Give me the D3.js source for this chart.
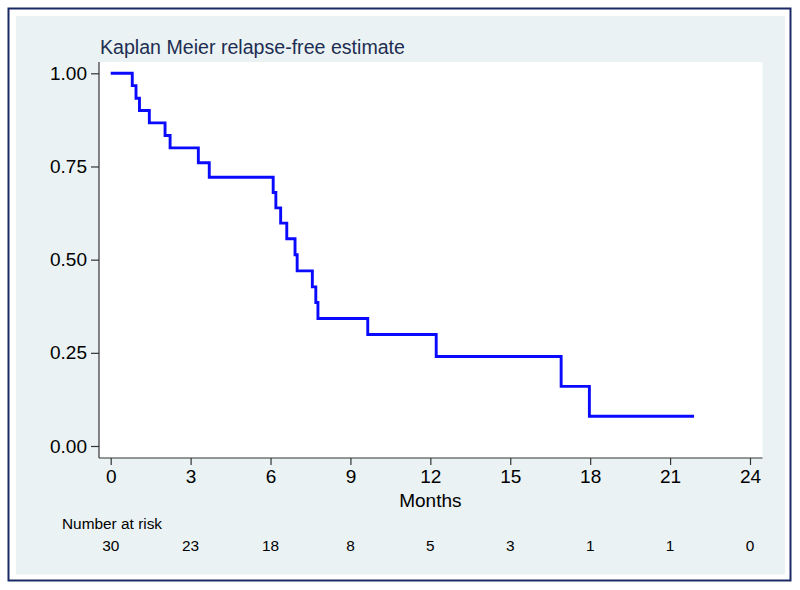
<!DOCTYPE html>
<html>
<head>
<meta charset="utf-8">
<script src="https://cdn.jsdelivr.net/npm/d3@7"></script>
<style>
  body { margin: 0; background: #ffffff; }
  svg { display: block; font-family: "Liberation Sans", Arial, sans-serif; }
</style>
</head>
<body>
<div id="chart"></div>
<script>
// Kaplan-Meier steps
const months = [0, 0.81, 0.95, 1.08, 1.45, 2.04, 2.23, 3.29, 3.70, 6.10, 6.20, 6.38, 6.61, 6.92, 7.00, 7.57, 7.70, 7.78, 9.65, 12.22, 16.91, 17.97, 21.9];
const survival = [1, 0.967, 0.933, 0.900, 0.867, 0.833, 0.800, 0.760, 0.721, 0.680, 0.639, 0.598, 0.556, 0.513, 0.470, 0.427, 0.385, 0.342, 0.299, 0.240, 0.160, 0.080, 0.080];

const xTicks = [0, 3, 6, 9, 12, 15, 18, 21, 24];
const yTicks = [0, 0.25, 0.5, 0.75, 1];
const atRisk = [30, 23, 18, 8, 5, 3, 1, 1, 0];

const width = 800;
const height = 590;

const svg = d3.select("#chart")
  .append("svg")
  .attr("width", width)
  .attr("height", height);

// outer frame and panel
svg.append("rect")
  .attr("x", 8.5).attr("y", 8.5)
  .attr("width", 782).attr("height", 572)
  .attr("fill", "#ffffff")
  .attr("stroke", "#1b2a66")
  .attr("stroke-width", 2);

svg.append("rect")
  .attr("x", 16).attr("y", 16)
  .attr("width", 769).attr("height", 558.5)
  .attr("fill", "#eaf2f3");

// plot region
const plot = { left: 99, right: 762.5, top: 62, bottom: 458 };

svg.append("rect")
  .attr("x", plot.left).attr("y", plot.top)
  .attr("width", plot.right - plot.left)
  .attr("height", plot.bottom - plot.top)
  .attr("fill", "#ffffff");

const xScale = d3.scaleLinear().domain([0, 24]).range([110.7, 750]);
const yScale = d3.scaleLinear().domain([0, 1]).range([446, 73.3]);

// x axis
const xAxis = d3.axisBottom(xScale)
  .tickValues(xTicks)
  .tickFormat(d => d)
  .tickSize(7)
  .tickPadding(5)
  .tickSizeOuter(0);

const gx = svg.append("g")
  .attr("transform", `translate(0,${plot.bottom})`)
  .call(xAxis);
gx.select(".domain").remove();
gx.selectAll(".tick line").attr("stroke", "#333333").attr("stroke-width", 1.2);
gx.selectAll(".tick text")
  .attr("fill", "#000000")
  .style("font-size", "19px");

// y axis
const yAxis = d3.axisLeft(yScale)
  .tickValues(yTicks)
  .tickFormat(d3.format(".2f"))
  .tickSize(8)
  .tickPadding(4)
  .tickSizeOuter(0);

const gy = svg.append("g")
  .attr("transform", `translate(${plot.left},0)`)
  .call(yAxis);
gy.select(".domain").remove();
gy.selectAll(".tick line").attr("stroke", "#333333").attr("stroke-width", 1.2);
gy.selectAll(".tick text")
  .attr("fill", "#000000")
  .style("font-size", "19px");

// axis lines
svg.append("line")
  .attr("x1", plot.left).attr("x2", plot.left)
  .attr("y1", plot.top).attr("y2", plot.bottom)
  .attr("stroke", "#333333").attr("stroke-width", 1.2);

svg.append("line")
  .attr("x1", plot.left).attr("x2", plot.right)
  .attr("y1", plot.bottom).attr("y2", plot.bottom)
  .attr("stroke", "#333333").attr("stroke-width", 1.2);

// survival curve
const line = d3.line()
  .x((d, i) => xScale(months[i]))
  .y(d => yScale(d))
  .curve(d3.curveStepAfter);

svg.append("path")
  .datum(survival)
  .attr("d", line)
  .attr("fill", "none")
  .attr("stroke", "#0a0aff")
  .attr("stroke-width", 2.9);

// title
svg.append("text")
  .attr("x", 100)
  .attr("y", 54)
  .attr("fill", "#1e2d52")
  .style("font-size", "19.6px")
  .text("Kaplan Meier relapse-free estimate");

// x axis title
svg.append("text")
  .attr("x", xScale(12))
  .attr("y", 507)
  .attr("text-anchor", "middle")
  .attr("fill", "#000000")
  .style("font-size", "19px")
  .text("Months");

// number at risk
svg.append("text")
  .attr("x", 62)
  .attr("y", 529)
  .attr("fill", "#000000")
  .style("font-size", "15.4px")
  .text("Number at risk");

svg.selectAll(".risk")
  .data(atRisk)
  .enter()
  .append("text")
  .attr("class", "risk")
  .attr("x", (d, i) => xScale(xTicks[i]))
  .attr("y", 551)
  .attr("text-anchor", "middle")
  .attr("fill", "#000000")
  .style("font-size", "15.4px")
  .text(d => d);
</script>
</body>
</html>
